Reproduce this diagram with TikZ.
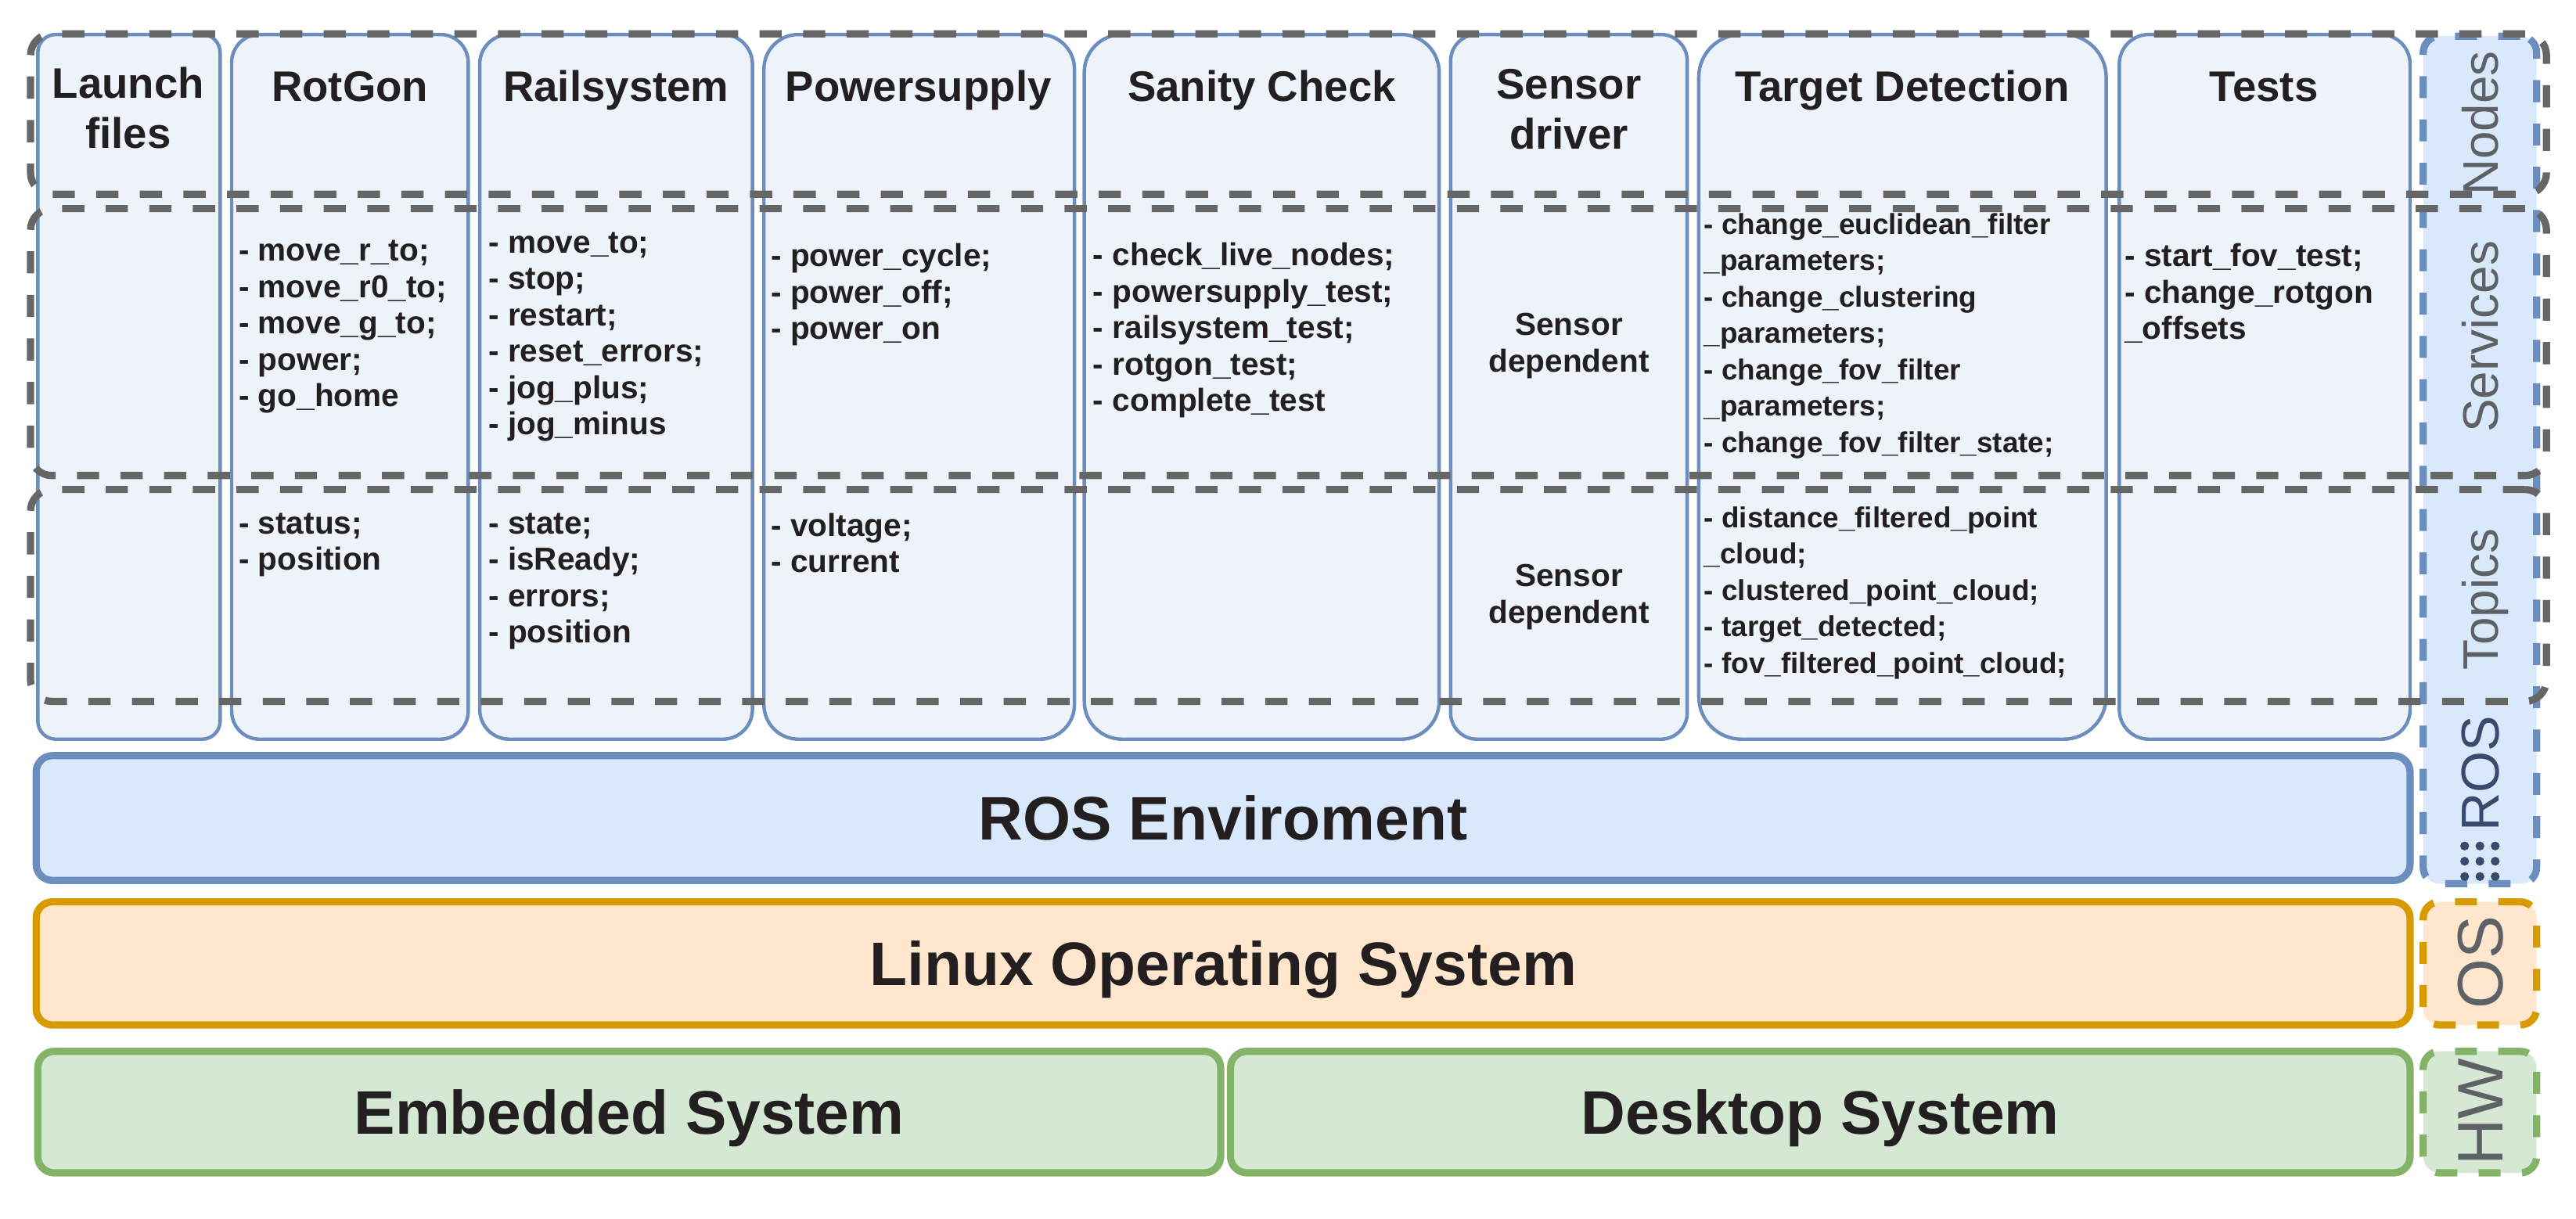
\documentclass[tikz,border=0pt]{standalone}
\usepackage{fontspec}
\setmainfont{Liberation Sans}
\usetikzlibrary{fit}

\definecolor{colfill}{HTML}{EEF3F9}
\definecolor{rosline}{HTML}{6C8EBF}
\definecolor{rosfill}{HTML}{DAE8FC}
\definecolor{osline}{HTML}{D79B00}
\definecolor{osfill}{HTML}{FFE6CC}
\definecolor{hwline}{HTML}{82B366}
\definecolor{hwfill}{HTML}{D5E8D4}
\definecolor{bandgray}{HTML}{666666}
\definecolor{labgray}{HTML}{5E6166}
\definecolor{rosnavy}{HTML}{3A4A6C}
\definecolor{ink}{HTML}{231F20}

\tikzset{
  nodecol/.style={draw=rosline, fill=colfill, line width=1.2pt, inner sep=0pt},
  layer/.style={line width=2.5pt, rounded corners=0.2cm, inner sep=0pt},
  layertext/.style={text=ink, inner sep=0pt, text height=15.3pt, text depth=0pt,
    font=\bfseries\fontsize{21.3}{25}\selectfont},
  sidebox/.style={line width=2.5pt, dash pattern=on 7.6pt off 7.4pt,
    rounded corners=0.2cm, inner sep=0pt},
  band/.style={draw=bandgray, line width=2.5pt, dash pattern=on 7.7pt off 7.4pt,
    rounded corners=0.26cm, inner sep=0pt},
  title/.style={text=ink, align=center, inner sep=0pt,
    font=\bfseries\fontsize{14.8}{17.3}\selectfont},
  items/.style={text=ink, align=left, anchor=north west, inner sep=0pt,
    execute at begin node=\strut, font=\bfseries\fontsize{11}{12.6}\selectfont},
  depend/.style={text=ink, align=center, inner sep=0pt,
    font=\bfseries\fontsize{11}{12.6}\selectfont},
  sidetext/.style={rotate=90, text=labgray, inner sep=0pt,
    text height=12.5pt, text depth=0pt, font=\fontsize{17.3}{20}\selectfont},
}

\begin{document}
\begin{tikzpicture}[x=0.02cm, y=-0.02cm]
    \useasboundingbox (0,0) rectangle (1568,742);

    % ROS nodes
    \node[nodecol, rounded corners=0.22cm, fit={(23,21) (134,450)}] (launch) {};
    \node[nodecol, rounded corners=0.34cm, fit={(141,21) (285,450)}] (rotgon) {};
    \node[nodecol, rounded corners=0.36cm, fit={(292,21) (458,450)}] (rail) {};
    \node[nodecol, rounded corners=0.42cm, fit={(465,21) (654,450)}] (power) {};
    \node[nodecol, rounded corners=0.46cm, fit={(660,21) (876,450)}] (sanity) {};
    \node[nodecol, rounded corners=0.32cm, fit={(883,21) (1027,450)}] (sensor) {};
    \node[nodecol, rounded corners=0.52cm, fit={(1034,21) (1282,450)}] (target) {};
    \node[nodecol, rounded corners=0.36cm, fit={(1290,21) (1467,450)}] (tests) {};

    \node[title] (launchT) at (78,65.7) {Launch\\files};
    \node[title, anchor=base] (rotgonT) at (213,61.5) {RotGon};
    \node[title, anchor=base] (railT) at (375,61.5) {Railsystem};
    \node[title, anchor=base] (powerT) at (559,61.5) {Powersupply};
    \node[title, anchor=base] (sanityT) at (768,61.5) {Sanity Check};
    \node[title] (sensorT) at (955,66.5) {Sensor\\driver};
    \node[title, anchor=base] (targetT) at (1158,61.5) {Target Detection};
    \node[title, anchor=base] (testsT) at (1378,61.5) {Tests};

    % services
    \node[items] (rotgonS) at (145,146) {- move\_r\_to;\\- move\_r0\_to;\\- move\_g\_to;\\- power;\\- go\_home};
    \node[items] (railS) at (297,141) {- move\_to;\\- stop;\\- restart;\\- reset\_errors;\\- jog\_plus;\\- jog\_minus};
    \node[items] (powerS) at (469,148) {- power\_cycle;\\- power\_off;\\- power\_on};
    \node[items] (sanityS) at (665,147.5) {- check\_live\_nodes;\\- powersupply\_test;\\- railsystem\_test;\\- rotgon\_test;\\- complete\_test};
    \node[depend] (sensorS) at (955,210.5) {Sensor\\dependent};
    \node[items, font=\bfseries\fontsize{10}{12.6}\selectfont] (targetS) at (1037,129.5)
        {- change\_euclidean\_filter\\\_parameters;\\- change\_clustering\\\_parameters;\\- change\_fov\_filter\\\_parameters;\\- change\_fov\_filter\_state;};
    \node[items] (testsS) at (1293,148) {- start\_fov\_test;\\- change\_rotgon\\\_offsets};

    % topics
    \node[items] (rotgonP) at (145,312) {- status;\\- position};
    \node[items] (railP) at (297,312) {- state;\\- isReady;\\- errors;\\- position};
    \node[items] (powerP) at (469,312) {- voltage;\\- current};
    \node[depend] (sensorP) at (955,363.5) {Sensor\\dependent};
    \node[items, font=\bfseries\fontsize{10}{12.6}\selectfont] (targetP) at (1037,308)
        {- distance\_filtered\_point\\\_cloud;\\- clustered\_point\_cloud;\\- target\_detected;\\- fov\_filtered\_point\_cloud;};

    % layers
    \node[layer, draw=rosline, fill=rosfill, fit={(22,460) (1467,536)}] (rosenv) {};
    \node[layer, draw=osline, fill=osfill, fit={(22,549) (1467,624)}] (linux) {};
    \node[layer, draw=hwline, fill=hwfill, fit={(23,640) (743,714)}] (embedded) {};
    \node[layer, draw=hwline, fill=hwfill, fit={(749,640) (1467,714)}] (desktop) {};
    \node[layertext] (rosenvT) at (rosenv.center) {ROS Enviroment};
    \node[layertext] (linuxT) at (linux.center) {Linux Operating System};
    \node[layertext] (embeddedT) at (embedded.center) {Embedded System};
    \node[layertext] (desktopT) at (desktop.center) {Desktop System};

    % side labels
    \node[sidebox, draw=rosline, fill=rosfill, fit={(1475,22) (1544,538)}] (roslab) {};
    \node[sidebox, draw=osline, fill=osfill, fit={(1475,549) (1544,624)}] (oslab) {};
    \node[sidebox, draw=hwline, fill=hwfill, fit={(1475,640) (1544,714)}] (hwlab) {};

    \node[sidetext] (nodesL) at (1509.5,75) {Nodes};
    \node[sidetext] (servL) at (1509.5,205) {Services};
    \node[sidetext] (topL) at (1509.5,365) {Topics};
    \node[sidetext, text=rosnavy, text height=13.3pt, font=\fontsize{18.5}{20}\selectfont] (rosL) at (1509.5,471) {ROS};
    \foreach \i in {0,1,2}
        \foreach \j in {0,1,2}
            \fill[rosnavy] (1500.2+9.3*\i, 515+9.3*\j) circle[radius=0.054cm];
    \node[sidetext, text height=16pt, font=\fontsize{22.3}{24}\selectfont] (osL) at (1509.5,586) {OS};
    \node[sidetext, text height=16pt, font=\fontsize{22.3}{24}\selectfont] (hwL) at (1509.5,677) {HW};

    % dashed bands
    \node[band, fit={(18.6,20.6) (1550,118.3)}] (nodesband) {};
    \node[band, fit={(18.6,127) (1550,289.5)}] (servband) {};
    \node[band, fit={(18.6,298) (1550,427)}] (topband) {};
\end{tikzpicture}
\end{document}
